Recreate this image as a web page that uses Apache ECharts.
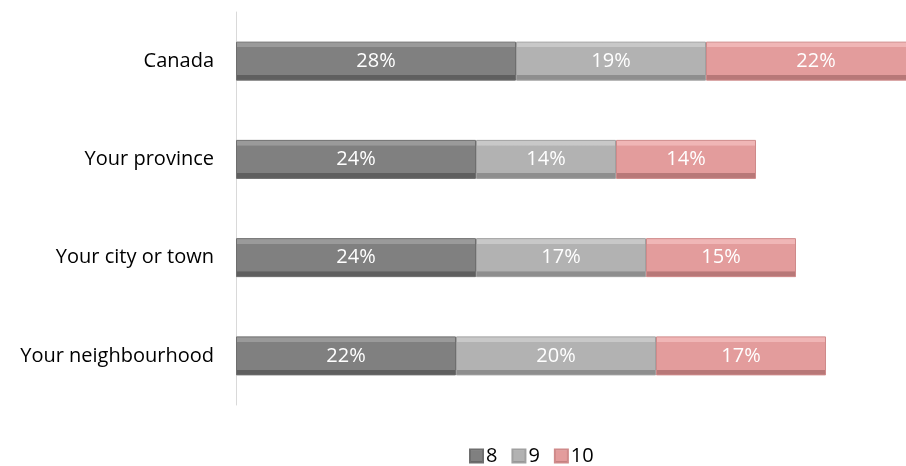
<!DOCTYPE html>
<html>
<head>
<meta charset="utf-8">
<script src="https://cdn.jsdelivr.net/npm/echarts@6/dist/echarts.min.js"></script>
<style>
  html, body { margin: 0; padding: 0; background: #ffffff; }
  #chart { width: 906px; height: 466px; }
</style>
</head>
<body>
<div id="chart"></div>
<script>
// Share of respondents giving each rating, by geographic level
const categories = ['Canada', 'Your province', 'Your city or town', 'Your neighbourhood'];
const seriesNames = ['8', '9', '10'];
const values8 = [28, 24, 24, 22];
const values9 = [19, 14, 17, 20];
const values10 = [22, 14, 15, 17];

const FONT = '"Open Sans", Lato, sans-serif';

// Vertical gradient that gives each segment a bevelled edge
function bevel(light, base, dark) {
  return new echarts.graphic.LinearGradient(0, 0, 0, 1, [
    { offset: 0, color: light },
    { offset: 0.14, color: light },
    { offset: 0.15, color: base },
    { offset: 0.85, color: base },
    { offset: 0.86, color: dark },
    { offset: 1, color: dark }
  ]);
}

const styles = [
  { fill: bevel('#9a9a9a', '#808080', '#5f5f5f'), border: '#6e6e6e' },
  { fill: bevel('#c8c8c8', '#b2b2b2', '#8e8e8e'), border: '#a0a0a0' },
  { fill: bevel('#f0b6b6', '#e39c9c', '#b87878'), border: '#cf8a8a' }
];

const dataSets = [values8, values9, values10];

const chart = echarts.init(document.getElementById('chart'), null, { renderer: 'canvas' });

chart.setOption({
  animation: false,
  textStyle: { fontFamily: FONT },
  // plot area runs past the right edge, so the longest bar is cut off
  grid: { left: 236, width: 700, top: 12, height: 393, outerBoundsMode: 'none', containLabel: false },
  xAxis: {
    type: 'value',
    min: 0,
    max: 70,
    show: false
  },
  yAxis: {
    type: 'category',
    data: categories,
    inverse: true,
    axisLine: { show: true, lineStyle: { color: '#d9d9d9', width: 1 } },
    axisTick: { show: false },
    axisLabel: { color: '#000000', fontSize: 20, fontFamily: FONT, margin: 22 },
    splitLine: { show: false }
  },
  legend: {
    top: 441,
    left: 464,
    itemWidth: 13,
    itemHeight: 13,
    itemGap: 14,
    icon: 'rect',
    textStyle: { fontSize: 20, color: '#000000', fontFamily: FONT, padding: [0, 0, 0, -2] },
    data: seriesNames
  },
  series: seriesNames.map((name, i) => ({
    name: name,
    type: 'bar',
    stack: 'total',
    barWidth: 39,
    data: dataSets[i],
    itemStyle: { color: styles[i].fill, borderColor: styles[i].border, borderWidth: 1 },
    label: {
      show: true,
      position: 'inside',
      color: '#ffffff',
      fontSize: 20,
      fontFamily: FONT,
      formatter: p => p.value + '%'
    }
  }))
});
</script>
</body>
</html>
